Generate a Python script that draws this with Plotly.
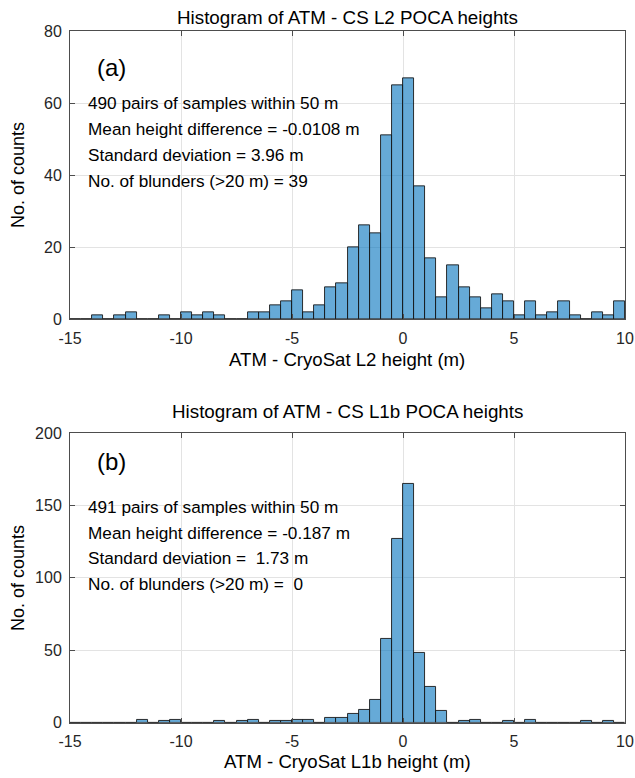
import numpy as np
import plotly.graph_objects as go

# ---- data ----
bin_edges = np.arange(-15.0, 10.0 + 0.25, 0.5)   # 0.5 m bins from -15 to 10
counts_l2 = [0, 0, 1, 0, 1, 2, 0, 0, 1, 0,
             2, 1, 2, 1, 0, 0, 2, 2, 4, 5,
             8, 2, 4, 9, 10, 20, 26, 24, 51, 65,
             67, 37, 17, 6, 15, 9, 6, 3, 7, 5,
             1, 5, 1, 2, 5, 1, 0, 2, 1, 5]
counts_l1b = [0, 0, 0, 0, 0, 0, 2, 0, 1, 2,
              0, 0, 0, 1, 0, 1, 2, 0, 1, 1,
              2, 2, 0, 3, 3, 6, 9, 16, 58, 127,
              165, 48, 25, 8, 0, 1, 2, 0, 0, 1,
              0, 2, 0, 0, 0, 0, 1, 0, 1, 0]
titles = ["Histogram of ATM - CS L2 POCA heights", "Histogram of ATM - CS L1b POCA heights"]
xlabels = ["ATM - CryoSat L2 height (m)", "ATM - CryoSat L1b height (m)"]
ylabel = "No. of counts"
panel_tags = ["(a)", "(b)"]
stats_l2 = ["490 pairs of samples within 50 m", "Mean height difference = -0.0108 m",
            "Standard deviation = 3.96 m", "No. of blunders (>20 m) = 39"]
stats_l1b = ["491 pairs of samples within 50 m", "Mean height difference = -0.187 m",
             "Standard deviation =\u00a0 1.73 m", "No. of blunders (>20 m) =\u00a0 0"]
xticks = [-15, -10, -5, 0, 5, 10]
xticktext = ["-15", "-10", "-5", "0", "5", "10"]
yticks_l2 = [0, 20, 40, 60, 80]
yticks_l1b = [0, 50, 100, 150, 200]

centers = (bin_edges[:-1] + bin_edges[1:]) / 2

W, H = 635, 778
ML, MR, MT, MB = 70, 10, 31, 55
PW, PH = W - ML - MR, H - MT - MB

def px(x):
    return (x - ML) / PW

def py(y):
    return (H - MB - y) / PH

FONT = "Liberation Sans, Arial, sans-serif"
TXT = "#262626"
BAR_FILL = "rgba(0,114,189,0.6)"

fig = go.Figure()
for counts, xa, ya in [(counts_l2, "x", "y"), (counts_l1b, "x2", "y2")]:
    fig.add_trace(go.Bar(x=centers, y=counts, width=0.5, xaxis=xa, yaxis=ya,
                         marker=dict(color=BAR_FILL, line=dict(color="#1a1a1a", width=0.9)),
                         showlegend=False, hoverinfo="x+y"))

ax_common = dict(showline=True, linecolor="#4d4d4d", linewidth=1, mirror="allticks",
                 ticks="inside", ticklen=5, tickcolor="#4d4d4d", automargin=False,
                 showgrid=True, gridcolor="#e3e3e3", gridwidth=1, zeroline=False,
                 tickfont=dict(family=FONT, size=16, color=TXT))

fig.update_layout(
    width=W, height=H, autosize=False, margin=dict(l=ML, r=MR, t=MT, b=MB),
    paper_bgcolor="white", plot_bgcolor="white", bargap=0,
    xaxis=dict(domain=[0, 1], range=[-15, 10], tickvals=xticks, ticktext=xticktext,
               anchor="y", ticklabelstandoff=4, **ax_common),
    yaxis=dict(domain=[py(319.3), py(31.3)], range=[0, 80], tickvals=yticks_l2, anchor="x",
               ticklabelstandoff=4, **ax_common),
    xaxis2=dict(domain=[0, 1], range=[-15, 10], tickvals=xticks, ticktext=xticktext,
                anchor="y2", ticklabelstandoff=4, **ax_common),
    yaxis2=dict(domain=[py(722.7), py(432.9)], range=[0, 200], tickvals=yticks_l1b, anchor="x2",
                ticklabelstandoff=4, **ax_common),
)

ann = []
def add(text, x, y, size, xanchor="center", yanchor="middle", angle=0):
    ann.append(dict(text=text, x=px(x), y=py(y), xref="paper", yref="paper",
                    xanchor=xanchor, yanchor=yanchor, showarrow=False, textangle=angle,
                    font=dict(family=FONT, size=size, color="black")))

# top panel
add(titles[0], 347, 17.5, 18.8)
add(xlabels[0], 347, 359, 18.6)
add(ylabel, 18, 175, 18, angle=-90)
add(panel_tags[0], 95, 67, 24, xanchor="left")
for i, s in enumerate(stats_l2):
    add(s, 86, 103 + i * 26, 17.2, xanchor="left")
# bottom panel
add(titles[1], 347, 411.5, 18.8)
add(xlabels[1], 347, 762, 18.6)
add(ylabel, 18, 578, 18, angle=-90)
add(panel_tags[1], 95, 462, 24, xanchor="left")
for i, s in enumerate(stats_l1b):
    add(s, 86, 507 + i * 25.5, 17.2, xanchor="left")

fig.update_layout(annotations=ann)
fig.write_html(
    "out.html",
    config={"displayModeBar": False, "responsive": False},
    post_script=("document.documentElement.style.overflow='hidden';"
                 "document.body.style.overflow='hidden';"
                 "document.body.style.margin='0px';"),
)
